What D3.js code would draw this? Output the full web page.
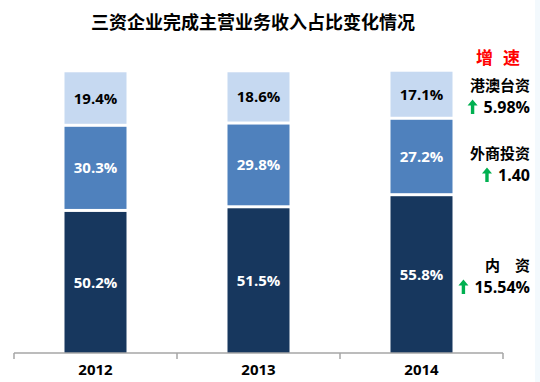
<!DOCTYPE html>
<html><head><meta charset="utf-8">
<script src="https://cdn.jsdelivr.net/npm/d3@7/dist/d3.min.js"></script>
<style>body{margin:0;background:#fff;}svg{display:block;font-family:"Noto Sans CJK SC","Noto Sans",sans-serif;}</style>
</head><body>
<svg id="c" width="540" height="382"></svg>
<script>
const title = "三资企业完成主营业务收入占比变化情况";
const years = ["2012", "2013", "2014"];
const seriesNames = ["内资", "外商投资", "港澳台资"];
const domestic = [50.2, 51.5, 55.8];
const foreign = [30.3, 29.8, 27.2];
const hkMacauTw = [19.4, 18.6, 17.1];
const growthTitle = ["增", "速"];
const growthLabels = ["港澳台资", "外商投资", "内　资"];
const growthValues = ["5.98%", "1.40", "15.54%"];
const colors = ["#17375e", "#4f81bd", "#c6d9f1"];
const labelColors = ["#fff", "#fff", "#000"];

const svg = d3.select("#c");
svg.append("rect").attr("x", 535).attr("y", 0).attr("width", 5).attr("height", 382).attr("fill", "#f3f9fd");

svg.append("text").attr("x", 253).attr("y", 29).attr("text-anchor", "middle")
  .attr("font-size", 18).attr("font-weight", "bold").attr("fill", "#000").text(title);

const x = d3.scaleBand().domain(years).range([14, 503]).padding(0);
const y = d3.scaleLinear().domain([0, 100]).range([353, 72]);
const barW = 62;
const gap = 3;
const numFont = "'Open Sans','Liberation Sans',sans-serif";

const series = [domestic, foreign, hkMacauTw];
years.forEach((yr, i) => {
  let cum = 0;
  const cx = x(yr) + x.bandwidth() / 2;
  series.forEach((s, k) => {
    const v = s[i];
    const top = y(cum + v);
    const bottom = y(cum) - (k > 0 ? gap : 0);
    svg.append("rect").attr("x", cx - barW / 2).attr("y", top)
      .attr("width", barW).attr("height", bottom - top).attr("fill", colors[k]);
    svg.append("text").attr("x", cx).attr("y", (top + bottom) / 2 + 5.5)
      .attr("text-anchor", "middle").attr("font-size", 15).attr("font-weight", "bold")
      .attr("font-family", numFont)
      .attr("fill", labelColors[k]).text(v.toFixed(1) + "%");
    cum += v;
  });
});

// axis
const axisG = svg.append("g").attr("transform", "translate(0,353)");
axisG.append("line").attr("x1", 14).attr("x2", 503).attr("stroke", "#a6a6a6").attr("stroke-width", 1.5);
const tickPos = years.map(d => x(d)).concat([x(years[years.length - 1]) + x.bandwidth()]);
tickPos.forEach(p => axisG.append("line").attr("x1", p).attr("x2", p).attr("y1", 0).attr("y2", 6)
  .attr("stroke", "#a6a6a6").attr("stroke-width", 1.5));
years.forEach(yr => axisG.append("text").attr("x", x(yr) + x.bandwidth() / 2).attr("y", 22)
  .attr("text-anchor", "middle").attr("font-size", 15).attr("font-weight", "bold")
  .attr("font-family", numFont).attr("fill", "#000").text(yr));

// growth annotations
[484.5, 511.5].forEach((cx, i) => svg.append("text").attr("x", cx).attr("y", 64).attr("text-anchor", "middle")
  .attr("font-size", 17).attr("font-weight", "bold").attr("fill", "#ff0000").text(growthTitle[i]));
const annY = [85, 153, 265];
function arrow(xc, yc) {
  const p = d3.path();
  p.moveTo(xc, yc - 7.5); p.lineTo(xc + 5, yc - 1.5); p.lineTo(xc + 1.7, yc - 1.5);
  p.lineTo(xc + 1.7, yc + 7); p.lineTo(xc - 1.7, yc + 7); p.lineTo(xc - 1.7, yc - 1.5);
  p.lineTo(xc - 5, yc - 1.5); p.closePath();
  svg.append("path").attr("d", p.toString()).attr("fill", "#00b050");
}
growthLabels.forEach((lab, i) => {
  svg.append("text").attr("x", 530).attr("y", annY[i] + 6).attr("text-anchor", "end")
    .attr("font-size", 15).attr("font-weight", "bold").attr("fill", "#000").text(lab);
  const t = svg.append("text").attr("x", 530).attr("y", annY[i] + 28).attr("text-anchor", "end")
    .attr("font-size", 16).attr("font-weight", "bold")
    .attr("font-family", numFont).attr("fill", "#000").text(growthValues[i]);
  const w = t.node().getComputedTextLength();
  arrow(530 - w - 11, annY[i] + 22);
});
</script>
</body></html>
